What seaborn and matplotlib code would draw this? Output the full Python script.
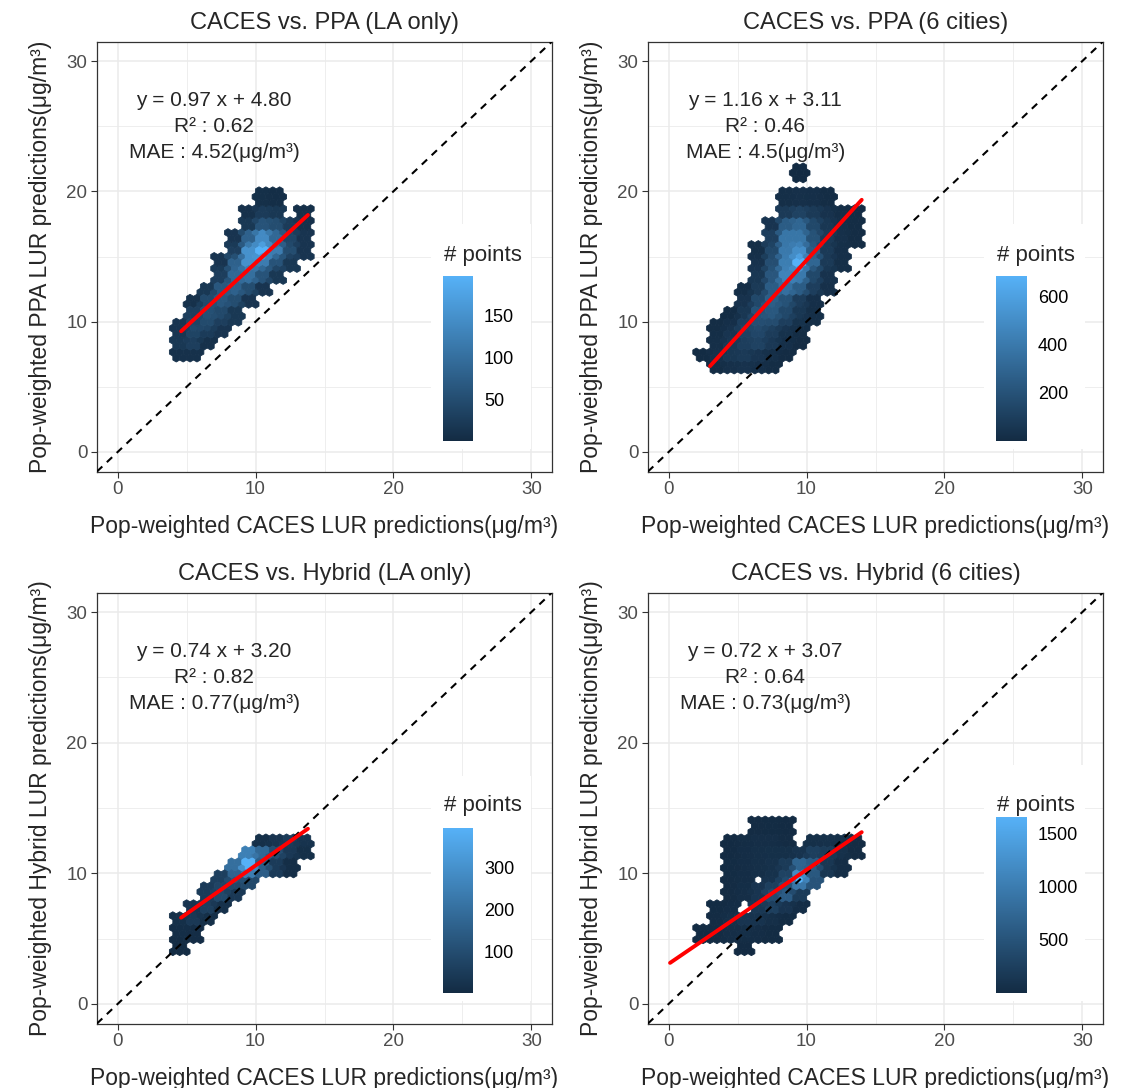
import numpy as np
import matplotlib
matplotlib.use("Agg")
import matplotlib.pyplot as plt
from matplotlib.colors import LinearSegmentedColormap, Normalize
import seaborn as sns

# --- Labels ---
titles = ["CACES vs. PPA (LA only)", "CACES vs. PPA (6 cities)",
          "CACES vs. Hybrid (LA only)", "CACES vs. Hybrid (6 cities)"]
ylabels = ["Pop-weighted PPA LUR predictions(μg/m³)", "Pop-weighted PPA LUR predictions(μg/m³)",
           "Pop-weighted Hybrid LUR predictions(μg/m³)", "Pop-weighted Hybrid LUR predictions(μg/m³)"]
xlabel = "Pop-weighted CACES LUR predictions(μg/m³)"

# --- Fit statistics ---
slopes = [0.97, 1.16, 0.74, 0.72]
intercepts = [4.80, 3.11, 3.20, 3.07]
slope_txt = ["0.97", "1.16", "0.74", "0.72"]
icpt_txt = ["4.80", "3.11", "3.20", "3.07"]
r2_txt = ["0.62", "0.46", "0.82", "0.64"]
mae_txt = ["4.52", "4.5", "0.77", "0.73"]
fit_x_start = [4.6, 3.0, 4.6, 0.1]
fit_x_end = [13.8, 14.0, 13.8, 14.0]
cbar_ticks = [[50, 100, 150], [200, 400, 600], [100, 200, 300], [500, 1000, 1500]]

# --- Hexbin counts, one row per 1-unit band of y, starting at y0 ---
p1_y0 = 7
p1_x0 = [4, 4, 4, 5, 5, 6, 7, 7, 8, 8, 9, 9, 10]
p1_rows = [
    [10, 10],
    [20, 30, 10],
    [15, 45, 40, 15],
    [30, 55, 45, 20],
    [10, 45, 65, 50, 15],
    [20, 65, 80, 50, 15],
    [30, 90, 100, 60, 20],
    [15, 80, 150, 120, 60, 20],
    [30, 150, 197, 120, 50, 15],
    [15, 80, 140, 90, 40, 15],
    [20, 60, 50, 25, 10],
    [10, 25, 20, 0, 8],
    [8, 5],
]

p2_y0 = 6
p2_x0 = [3, 2, 3, 3, 4, 5, 5, 6, 6, 6, 7, 7, 8, 8, 9, 9]
p2_rows = [
    [10, 30, 40, 25, 10],
    [5, 30, 60, 80, 50, 20, 8],
    [20, 60, 100, 120, 70, 25, 8],
    [10, 40, 130, 160, 110, 50, 15],
    [5, 60, 200, 230, 150, 60, 20],
    [40, 150, 260, 200, 90, 25],
    [15, 80, 250, 350, 250, 100, 30],
    [60, 220, 450, 400, 150, 40],
    [40, 180, 420, 684, 300, 80, 20],
    [20, 150, 400, 500, 250, 80, 25],
    [100, 380, 380, 200, 80, 30, 10],
    [50, 250, 300, 150, 60, 25, 10],
    [80, 120, 80, 40, 15, 8],
    [20, 30, 25, 10],
    [],
    [1],
]

p3_y0 = 4
p3_x0 = [4, 4, 4, 5, 6, 7, 8, 9, 10]
p3_rows = [
    [3],
    [10, 8],
    [15, 40, 15],
    [30, 60, 20],
    [50, 90, 40],
    [60, 130, 90],
    [200, 395, 150, 50, 10],
    [250, 180, 100, 40, 15],
    [15, 30, 50, 25],
]

p4_y0 = 4
p4_x0 = [5, 2, 3, 3, 4, 4, 4, 4, 4, 6]
p4_rows = [
    [3],
    [5, 20, 40, 50, 30, 10],
    [15, 60, 120, 100, 50, 10],
    [10, 30, 0, 150, 250, 120, 30],
    [20, 40, 120, 400, 600, 200],
    [15, 30, 0, 100, 400, 1650, 500],
    [10, 30, 50, 80, 200, 700, 600, 150, 30],
    [5, 30, 50, 60, 60, 100, 250, 200, 80, 20],
    [5, 25, 40, 40, 20, 0, 60, 80, 60, 20],
    [15, 10, 5],
]

panels = [(p1_y0, p1_x0, p1_rows), (p2_y0, p2_x0, p2_rows),
          (p3_y0, p3_x0, p3_rows), (p4_y0, p4_x0, p4_rows)]


def cells_to_points(y0, x0s, rows):
    # spread each 1x1 cell over a 4x4 sub-grid so the hexes fill the cell
    sub = (np.arange(4) + 0.5) / 4
    xs, ys, cs = [], [], []
    for j, (x0, row) in enumerate(zip(x0s, rows)):
        for i, c in enumerate(row):
            if c <= 0:
                continue
            for dy in sub:
                for dx in sub:
                    xs.append(x0 + i + dx)
                    ys.append(y0 + j + dy)
                    cs.append(c)
    return np.array(xs), np.array(ys), np.array(cs, dtype=float)


sns.set_theme(style="whitegrid")
plt.rcParams["font.family"] = ["Liberation Sans", "DejaVu Sans"]

cmap = LinearSegmentedColormap.from_list("gg", ["#132B43", "#56B1F7"])
fig = plt.figure(figsize=(11.3, 10.88), dpi=100)

W, H = 1130, 1088
ax_boxes = [(97, 41.5, 552, 471.5), (648, 41.5, 1103, 471.5),
            (97, 592.5, 552, 1023.5), (648, 592.5, 1103, 1023.5)]
cbar_boxes = [(443, 276, 473, 441), (996, 276, 1027, 441),
              (443, 828, 473, 993), (996, 817, 1027, 993)]
legend_title_y = [255, 255, 806, 806]

for k in range(4):
    l, t, r, b = ax_boxes[k]
    ax = fig.add_axes([l / W, 1 - b / H, (r - l) / W, (b - t) / H])
    y0, x0s, rows = panels[k]
    xs, ys, cs = cells_to_points(y0, x0s, rows)
    vmax = max(max(rw) for rw in rows if rw)
    hb = ax.hexbin(xs, ys, C=cs, reduce_C_function=np.mean, gridsize=(66, 36),
                   extent=(-1.5, 31.5, -1.5, 31.5), cmap=cmap,
                   norm=Normalize(vmin=1, vmax=vmax), edgecolors="face",
                   linewidths=0.6, zorder=2)

    ax.axline((0, 0), slope=1, color="black", lw=1.5, ls=(0, (3.5, 3)), zorder=3)
    fx = np.array([fit_x_start[k], fit_x_end[k]])
    sns.lineplot(x=fx, y=slopes[k] * fx + intercepts[k], ax=ax, color="red", lw=2.8, zorder=4)

    ax.text(7, 27, f"y = {slope_txt[k]} x + {icpt_txt[k]}", ha="center", va="center", fontsize=15)
    ax.text(7, 25, f"R² : {r2_txt[k]}", ha="center", va="center", fontsize=15)
    ax.text(7, 23, f"MAE : {mae_txt[k]}(μg/m³)", ha="center", va="center", fontsize=15)

    ax.set_xlim(-1.5, 31.5)
    ax.set_ylim(-1.5, 31.5)
    ax.set_xticks([0, 10, 20, 30])
    ax.set_yticks([0, 10, 20, 30])
    ax.set_xticks([5, 15, 25], minor=True)
    ax.set_yticks([5, 15, 25], minor=True)
    ax.grid(which="major", color="#EBEBEB", lw=1.1)
    ax.grid(which="minor", color="#EBEBEB", lw=0.6)
    ax.set_axisbelow(True)
    ax.tick_params(which="major", length=4, width=0.8, color="#333333",
                   labelsize=13.5, labelcolor="#4D4D4D", pad=3, bottom=True, left=True)
    ax.tick_params(which="minor", length=0)
    for sp in ax.spines.values():
        sp.set_color("#333333")
        sp.set_linewidth(0.9)
    ax.set_title(titles[k], fontsize=17, pad=9)
    ax.set_xlabel(xlabel, fontsize=16.5, labelpad=12)
    ax.set_ylabel(ylabels[k], fontsize=16.5, labelpad=10)

    # legend background, colorbar and title
    cl, ct, cr, cbt = cbar_boxes[k]
    bg = fig.add_axes([(cl - 12) / W, 1 - (cbt + 8) / H, (cr - cl + 70) / W, (cbt - ct + 60) / H])
    bg.set_facecolor("white")
    bg.set_xticks([])
    bg.set_yticks([])
    for sp in bg.spines.values():
        sp.set_visible(False)
    cax = fig.add_axes([cl / W, 1 - cbt / H, (cr - cl) / W, (cbt - ct) / H])
    cb = fig.colorbar(hb, cax=cax)
    cb.outline.set_visible(False)
    cb.set_ticks(cbar_ticks[k])
    cax.tick_params(direction="in", length=5, width=0.8, color="white",
                    labelsize=13, labelcolor="black", left=True, right=True, pad=8)
    cax.grid(False)
    fig.text((cl + 1) / W, 1 - legend_title_y[k] / H, "# points", ha="left", va="center", fontsize=16)

fig.savefig("out.png", dpi=100)
